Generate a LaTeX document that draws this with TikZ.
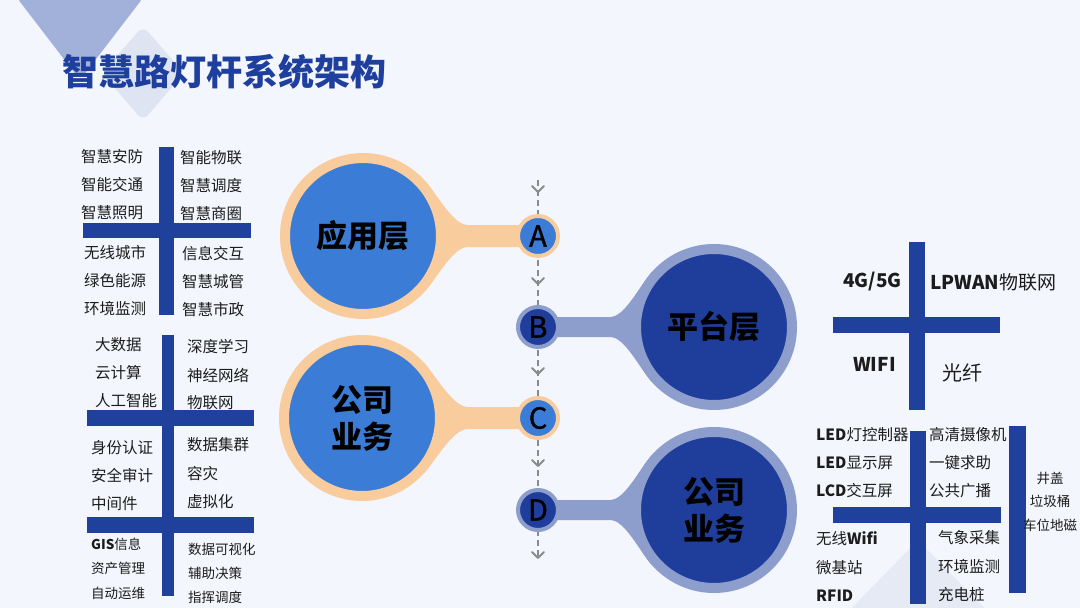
\documentclass[tikz,border=0pt]{standalone}
\usepackage{fontspec}
\setmainfont{Noto Sans CJK SC}
\newfontface\letf{Noto Sans CJK SC}[FakeBold=1.2]
\usepackage{tikz}
\usetikzlibrary{calc}
\definecolor{bgc}{HTML}{F3F6FC}
\definecolor{barc}{HTML}{1F419C}
\definecolor{titc}{HTML}{1F3F9E}
\definecolor{peach}{HTML}{F9CC9E}
\definecolor{lblue}{HTML}{3B7DD6}
\definecolor{ring}{HTML}{8D9ECC}
\definecolor{dblue}{HTML}{1F3E9C}
\definecolor{decoa}{HTML}{A1B1D9}
\definecolor{decob}{HTML}{DFE4F2}
\definecolor{decoc}{HTML}{E6EAF4}
\definecolor{txtc}{HTML}{1C1C1C}
\definecolor{dashc}{HTML}{8A8A8A}
\pgfdeclarelayer{bg}
\pgfdeclarelayer{mid}
\pgfsetlayers{bg,mid,main}
\newcommand\latb[1]{{\bfseries #1}}
\tikzset{
  bar/.style={fill=barc},
  item/.style={anchor=west,inner sep=0pt,text=txtc,font=\fontsize{15.5}{18}\selectfont},
  itemsm/.style={item,font=\fontsize{13.5}{16}\selectfont},
  big/.style={circle,minimum size=156pt,inner sep=0pt,line width=10pt,text=black,align=center,font=\fontsize{31}{37}\selectfont\bfseries},
  small/.style={circle,minimum size=40pt,inner sep=0pt,line width=4pt,text=black,font=\fontsize{29}{30}\selectfont\letf},
  warm/.style={fill=lblue,draw=peach},
  cool/.style={fill=dblue,draw=ring},
  chev/.style={dashc,line width=2pt,line cap=round,line join=round},
  dashline/.style={dashc,line width=1.2pt,dash pattern=on 6pt off 4pt}
}

\begin{document}
\begin{tikzpicture}[x=1pt,y=1pt]
\useasboundingbox (0,0) rectangle (1080,-608);
\begin{pgfonlayer}{bg}
\fill[bgc] (0,0) rectangle (1080,-608);
\fill[decoa,rounded corners=10pt] (14,6) -- (80,-80) -- (146,6) -- (80,80) -- cycle;
\fill[decob,rounded corners=8pt] (143,-26) -- (184,-73) -- (143,-121) -- (102,-73) -- cycle;
\fill[decoc,rounded corners=8pt] (840,-620) -- (918,-540) -- (996,-620) -- cycle;
\end{pgfonlayer}
\node[anchor=west,inner sep=0pt,text=titc,font=\fontsize{36}{40}\selectfont\bfseries] (title) at (62,-72) {智慧路灯杆系统架构};

% crosses
\fill[bar] (159,-147) rectangle (174,-315);
\fill[bar] (83,-223) rectangle (251,-238);
\fill[bar] (162,-335) rectangle (174,-596);
\fill[bar] (87,-410) rectangle (254,-426);
\fill[bar] (87,-517) rectangle (254,-533);
\fill[bar] (909,-242) rectangle (925,-410);
\fill[bar] (833,-317) rectangle (1000,-333);
\fill[bar] (910,-431) rectangle (926,-604);
\fill[bar] (833,-507) rectangle (1001,-523);
\fill[bar] (1009,-426) rectangle (1026,-593);

% left lists
\foreach \t [count=\i] in {智慧安防,智能交通,智慧照明}
  \node[item] (la\i) at (81,{-157-28*(\i-1)}) {\t};
\foreach \t [count=\i] in {智能物联,智慧调度,智慧商圈}
  \node[item] (lb\i) at (180,{-158-28*(\i-1)}) {\t};
\foreach \t [count=\i] in {无线城市,绿色能源,环境监测}
  \node[item] (lc\i) at (84,{-253-28*(\i-1)}) {\t};
\foreach \t [count=\i] in {信息交互,智慧城管,智慧市政}
  \node[item] (ld\i) at (182,{-254-28*(\i-1)}) {\t};
\foreach \t [count=\i] in {大数据,云计算,人工智能}
  \node[item] (le\i) at (95,{-345-28*(\i-1)}) {\t};
\foreach \t [count=\i] in {深度学习,神经网络,物联网}
  \node[item] (lf\i) at (187,{-347-28*(\i-1)}) {\t};
\foreach \t [count=\i] in {身份认证,安全审计,中间件}
  \node[item] (lg\i) at (91,{-448-28*(\i-1)}) {\t};
\foreach \t [count=\i] in {数据集群,容灾,虚拟化}
  \node[item] (lh\i) at (187,{-445-28.5*(\i-1)}) {\t};
\foreach \t [count=\i] in {\latb{GIS}信息,资产管理,自动运维}
  \node[itemsm] (li\i) at (91,{-544-24.5*(\i-1)}) {\t};
\foreach \t [count=\i] in {数据可视化,辅助决策,指挥调度}
  \node[itemsm] (lj\i) at (188,{-549-24*(\i-1)}) {\t};

% right lists
\node[item,font=\fontsize{19}{22}\selectfont\bfseries] (ra1) at (843,-282) {4G/5G};
\node[item,font=\fontsize{19}{22}\selectfont] (ra2) at (930,-282) {\latb{LPWAN}物联网};
\node[item,font=\fontsize{19}{22}\selectfont\bfseries] (ra3) at (853,-364) {WIFI};
\node[item,font=\fontsize{20}{22}\selectfont] (ra4) at (942,-373) {光纤};
\foreach \t [count=\i] in {\latb{LED}灯控制器,\latb{LED}显示屏,\latb{LCD}交互屏}
  \node[item] (rb\i) at (816,{-435-28*(\i-1)}) {\t};
\foreach \t [count=\i] in {高清摄像机,一键求助,公共广播}
  \node[item] (rc\i) at (929,{-435-28*(\i-1)}) {\t};
\foreach \t [count=\i] in {无线\latb{Wifi},微基站,\latb{RFID}}
  \node[item] (rd\i) at (816,{-539-28.5*(\i-1)}) {\t};
\foreach \t [count=\i] in {气象采集,环境监测,充电桩}
  \node[item] (re\i) at (938,{-538-28.5*(\i-1)}) {\t};
\foreach \t [count=\i] in {井盖,垃圾桶,车位地磁}
  \node[itemsm,anchor=center] (rf\i) at (1050,{-478-23.5*(\i-1)}) {\t};

% circles
\node[big,warm] (app) at (363,-236) {应用层};
\node[big,warm] (biz) at (362,-418) {公司\\业务};
\node[big,cool] (plat) at (714,-327) {平台层};
\node[big,cool] (svc) at (714,-510) {公司\\业务};
\node[small,warm] (A) at (538,-236) {A};
\node[small,cool] (B) at (538,-327) {B};
\node[small,warm] (C) at (538,-418) {C};
\node[small,cool] (D) at (538,-510) {D};
\coordinate (dtop) at (538,-180);
\coordinate (dbot) at (538,-558);

\begin{pgfonlayer}{mid}
\foreach \b/\s/\c in {app/A/peach,biz/C/peach}
  \fill[\c] (\b.42) .. controls +(-48:20) and +(-15,0) .. ($(\s.center)+(-70,11)$)
    -- ($(\s.center)+(0,11)$) -- ($(\s.center)+(0,-11)$) -- ($(\s.center)+(-70,-11)$)
    .. controls +(-15,0) and +(48:20) .. (\b.318) -- cycle;
\foreach \b/\s/\c in {plat/B/ring,svc/D/ring}
  \fill[\c] (\b.138) .. controls +(-132:20) and +(15,0) .. ($(\s.center)+(72,10)$)
    -- ($(\s.center)+(0,10)$) -- ($(\s.center)+(0,-10)$) -- ($(\s.center)+(72,-10)$)
    .. controls +(15,0) and +(132:20) .. (\b.222) -- cycle;
\draw[dashline] (dtop) -- (dbot);
\end{pgfonlayer}
\foreach \yy in {192,284,374,466,558}
  \draw[chev] (532,{-\yy+6}) -- (538,-\yy) -- (544,{-\yy+6});
\end{tikzpicture}
\end{document}
